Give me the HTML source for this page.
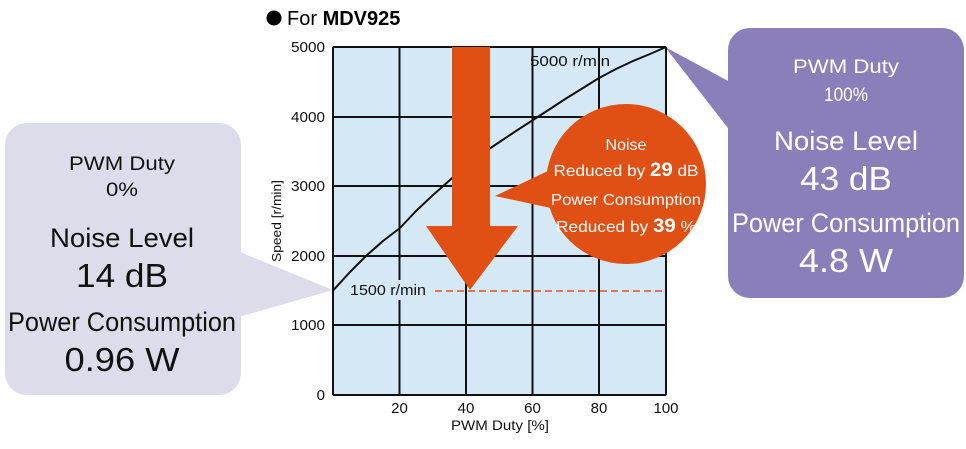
<!DOCTYPE html>
<html><head><style>body{margin:0;background:#fff;}svg text{font-family:"Liberation Sans",sans-serif;}</style></head>
<body>
<svg width="966" height="444" viewBox="0 0 966 444" xmlns="http://www.w3.org/2000/svg">
<circle cx="274" cy="18" r="7.5" fill="#000"/>
<text x="287" y="25" font-size="20">For <tspan font-weight="bold">MDV925</tspan></text>
<!-- left callout -->
<polygon points="235,250 235,318 333,290" fill="#dcdcea"/>
<rect x="5" y="123" width="236" height="272" rx="22" fill="#dcdcea"/>
<g text-anchor="middle" fill="#111">
<text x="122" y="170" font-size="19" textLength="106" lengthAdjust="spacingAndGlyphs">PWM Duty</text>
<text x="122" y="196" font-size="19" textLength="32" lengthAdjust="spacingAndGlyphs">0%</text>
<text x="122" y="247" font-size="27" textLength="144" lengthAdjust="spacingAndGlyphs">Noise Level</text>
<text x="122" y="287" font-size="33" textLength="92" lengthAdjust="spacingAndGlyphs">14 dB</text>
<text x="122" y="331" font-size="27" textLength="228" lengthAdjust="spacingAndGlyphs">Power Consumption</text>
<text x="122" y="371" font-size="33" textLength="115" lengthAdjust="spacingAndGlyphs">0.96 W</text>
</g>
<!-- right callout -->
<polygon points="665,47 745,90 745,150" fill="#8a7fb8"/>
<rect x="728" y="28" width="236" height="270" rx="22" fill="#8a7fb8"/>
<g text-anchor="middle" fill="#fff">
<text x="846" y="73" font-size="19" textLength="106" lengthAdjust="spacingAndGlyphs">PWM Duty</text>
<text x="846" y="101" font-size="19" textLength="44" lengthAdjust="spacingAndGlyphs">100%</text>
<text x="846" y="150" font-size="27" textLength="144" lengthAdjust="spacingAndGlyphs">Noise Level</text>
<text x="846" y="190" font-size="33" textLength="92" lengthAdjust="spacingAndGlyphs">43 dB</text>
<text x="846" y="232" font-size="27" textLength="228" lengthAdjust="spacingAndGlyphs">Power Consumption</text>
<text x="846" y="272" font-size="33" textLength="94" lengthAdjust="spacingAndGlyphs">4.8 W</text>
</g>
<!-- plot -->
<rect x="333" y="47" width="333" height="348" fill="#d4e9f5"/>
<g stroke="#111" stroke-width="2">
<line x1="333" y1="47" x2="666" y2="47"/>
<line x1="333" y1="117" x2="666" y2="117"/>
<line x1="333" y1="186" x2="666" y2="186"/>
<line x1="333" y1="256" x2="666" y2="256"/>
<line x1="333" y1="325" x2="666" y2="325"/>
<line x1="333" y1="395" x2="666" y2="395"/>
<line x1="333" y1="47" x2="333" y2="395"/>
<line x1="399.5" y1="47" x2="399.5" y2="395"/>
<line x1="466" y1="47" x2="466" y2="395"/>
<line x1="532.5" y1="47" x2="532.5" y2="395"/>
<line x1="599" y1="47" x2="599" y2="395"/>
<line x1="666" y1="47" x2="666" y2="395"/>
</g>
<g font-size="15" fill="#111" text-anchor="end">
<text x="325" y="52" textLength="34" lengthAdjust="spacingAndGlyphs">5000</text><text x="325" y="122" textLength="34" lengthAdjust="spacingAndGlyphs">4000</text><text x="325" y="191" textLength="34" lengthAdjust="spacingAndGlyphs">3000</text>
<text x="325" y="261" textLength="34" lengthAdjust="spacingAndGlyphs">2000</text><text x="325" y="330" textLength="34" lengthAdjust="spacingAndGlyphs">1000</text><text x="325" y="400">0</text>
</g>
<g font-size="15" fill="#111" text-anchor="middle">
<text x="399.5" y="413">20</text><text x="466" y="413">40</text><text x="532.5" y="413">60</text>
<text x="599" y="413">80</text><text x="666" y="413">100</text>
<text x="500" y="430" font-size="14" textLength="98" lengthAdjust="spacingAndGlyphs">PWM Duty [%]</text>
</g>
<text transform="translate(281,221) rotate(-90)" font-size="13" text-anchor="middle" fill="#111" textLength="82" lengthAdjust="spacingAndGlyphs">Speed [r/min]</text>
<polyline points="333,290.6 350,272 366,256 383,241 400,228 416,211 433,195 450,180 466,165 483,153 499.5,142 516,131 533,120 550,109 566,98.5 583,88 599,78 616,69 633,61 650,54 666,47" fill="none" stroke="#111" stroke-width="2" stroke-linejoin="round"/>
<text x="530" y="66" font-size="15" fill="#111" textLength="80" lengthAdjust="spacingAndGlyphs">5000 r/min</text>
<line x1="435" y1="291" x2="666" y2="291" stroke="#e0502a" stroke-width="1.5" stroke-dasharray="7,4"/>
<rect x="345" y="280" width="85" height="20" fill="#d4e9f5"/>
<text x="350" y="295" font-size="15" fill="#111" textLength="76" lengthAdjust="spacingAndGlyphs">1500 r/min</text>
<!-- arrow -->
<polygon points="452,47 490,47 490,226 518,226 470,290 426,226 452,226" fill="#e05014"/>
<!-- circle -->
<polygon points="550,170 495,196 560,210" fill="#e05014"/>
<circle cx="626" cy="184" r="80" fill="#e05014"/>
<g text-anchor="middle" fill="#fff" font-size="16">
<text x="626" y="150">Noise</text>
<text x="626" y="176" textLength="145" lengthAdjust="spacingAndGlyphs">Reduced by <tspan font-weight="bold" font-size="19">29</tspan> dB</text>
<text x="626" y="205" textLength="150" lengthAdjust="spacingAndGlyphs">Power Consumption</text>
<text x="626" y="232" textLength="140" lengthAdjust="spacingAndGlyphs">Reduced by <tspan font-weight="bold" font-size="19">39</tspan> %</text>
</g>
</svg>
</body></html>
